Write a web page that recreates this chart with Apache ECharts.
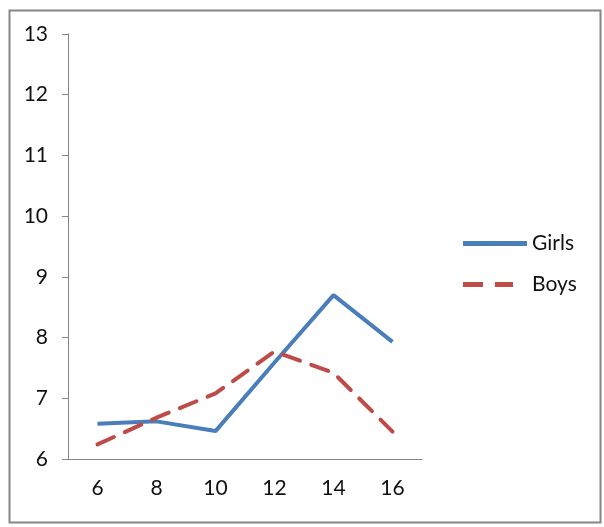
<!DOCTYPE html>
<html>
<head>
<meta charset="utf-8">
<script src="https://cdn.jsdelivr.net/npm/echarts@6/dist/echarts.min.js"></script>
<style>
  html, body { margin: 0; padding: 0; background: #fff; }
  #chart { width: 604px; height: 527px; }
</style>
</head>
<body>
<div id="chart"></div>
<script>
const ages      = ['6', '8', '10', '12', '14', '16'];
const girls     = [6.58, 6.62, 6.46, 7.59, 8.70, 7.93];
const boys      = [6.24, 6.68, 7.08, 7.77, 7.42, 6.45];
const yTicks    = [6, 13, 1];   // min, max, step

const chart = echarts.init(document.getElementById('chart'));
const axisGray = '#868686';
const font = 'Lato, "Open Sans", sans-serif';

const option = {
    animation: false,
    graphic: [{
        type: 'rect',
        left: 7, top: 8,
        shape: { width: 591, height: 512 },
        style: { fill: 'none', stroke: axisGray, lineWidth: 2 }
    }],
    grid: { left: 68, right: 182, top: 34, bottom: 68 },
    legend: {
        orient: 'vertical',
        left: 458, top: 228,
        itemWidth: 64, itemHeight: 5,
        itemGap: 20,
        textStyle: { fontFamily: font, fontSize: 21, color: '#111' },
        data: [
            { name: 'Girls', icon: 'path://M0,0H64V5H0Z' },
            // two short dashes; the tiny box at x=64 keeps the icon from stretching
            { name: 'Boys',  icon: 'path://M0,0H20V5H0ZM32,0H50V5H32ZM63.95,2.5H64V2.55H63.95Z' }
        ]
    },
    xAxis: {
        type: 'category',
        data: ages,
        boundaryGap: true,
        axisLine: { lineStyle: { color: axisGray, width: 1 } },
        axisTick: { length: 6, lineStyle: { color: axisGray } },
        axisLabel: { color: '#111', fontFamily: font, fontSize: 21, margin: 19 },
        splitLine: { show: false }
    },
    yAxis: {
        type: 'value',
        min: yTicks[0], max: yTicks[1], interval: yTicks[2],
        axisLine: { show: true, lineStyle: { color: axisGray, width: 1 } },
        axisTick: { show: true, length: 6, lineStyle: { color: axisGray } },
        axisLabel: { color: '#111', fontFamily: font, fontSize: 21, margin: 20 },
        splitLine: { show: false }
    },
    series: [
        {
            name: 'Girls', type: 'line', data: girls,
            symbol: 'none',
            lineStyle: { color: '#4a7ebb', width: 4 },
            itemStyle: { color: '#4a7ebb' }
        },
        {
            name: 'Boys', type: 'line', data: boys,
            symbol: 'none',
            lineStyle: { color: '#be4b48', width: 4, type: [18, 12], cap: 'round' },
            itemStyle: { color: '#be4b48' }
        }
    ]
};
chart.setOption(option);
</script>
</body>
</html>
